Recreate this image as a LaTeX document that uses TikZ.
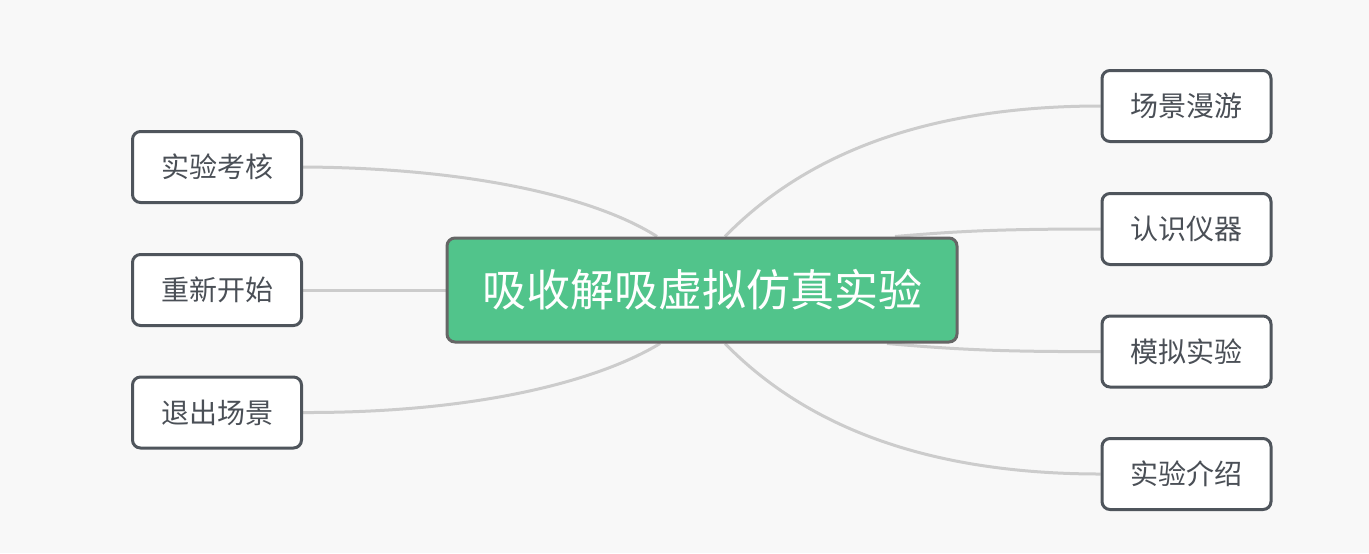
\documentclass[tikz,border=0pt]{standalone}
\usepackage{fontspec}
\setmainfont{Noto Sans CJK SC}
\usepackage{xcolor}
\usepackage{tikz}
\usetikzlibrary{positioning, calc, backgrounds}

\definecolor{pagebg}{HTML}{F8F8F8}
\definecolor{rootgreen}{HTML}{51C48B}
\definecolor{rootborder}{HTML}{666666}
\definecolor{leafborder}{HTML}{4F555C}
\definecolor{leaftext}{HTML}{4A4F56}
\definecolor{linkgray}{HTML}{CCCCCC}

\begin{document}
\begin{tikzpicture}[x=0.5pt, y=-0.5pt,
    root/.style={rectangle, rounded corners=4pt, draw=rootborder, line width=1.5pt, fill=rootgreen, text=white, font=\fontsize{22}{26}\selectfont, minimum width=255pt, minimum height=52pt, inner sep=0pt},
    leaf/.style={rectangle, rounded corners=4pt, draw=leafborder, line width=1.5pt, fill=white, text=leaftext, font=\fontsize{14}{17}\selectfont, minimum width=84.5pt, minimum height=35.5pt, inner sep=0pt},
    link/.style={draw=linkgray, line width=1.5pt}
]
    \useasboundingbox (0,0) rectangle (1369,553);

    % Root
    \node[root] (root) at (702,290) {吸收解吸虚拟仿真实验};

    % Left branches
    \node[leaf] (exam) at (217,167) {实验考核};
    \node[leaf] (restart) at (217,290) {重新开始};
    \node[leaf] (quit) at (217,412.5) {退出场景};

    % Right branches
    \node[leaf] (tour) at (1186.5,106) {场景漫游};
    \node[leaf] (devices) at (1186.5,229) {认识仪器};
    \node[leaf] (simulate) at (1186.5,351.5) {模拟实验};
    \node[leaf] (intro) at (1186.5,474) {实验介绍};

    % Links
    \begin{pgfonlayer}{background}
        \fill[pagebg] (0,0) rectangle (1369,553);
        \draw[link] ($(root.north)+(-45,0)$) .. controls (600,200) and (480,168) .. (exam.east);
        \draw[link] (root.west) -- (restart.east);
        \draw[link] ($(root.south)+(-42,0)$) .. controls (600,380) and (480,413) .. (quit.east);
        \draw[link] ($(root.north)+(23,0)$) .. controls (790,170) and (900,106) .. (tour.west);
        \draw[link] ($(root.north)+(193,0)$) .. controls (960,231) and (1000,229) .. (devices.west);
        \draw[link] ($(root.south)+(185,0)$) .. controls (950,349) and (1000,352) .. (simulate.west);
        \draw[link] ($(root.south)+(23,0)$) .. controls (790,410) and (900,474) .. (intro.west);
    \end{pgfonlayer}
\end{tikzpicture}
\end{document}
